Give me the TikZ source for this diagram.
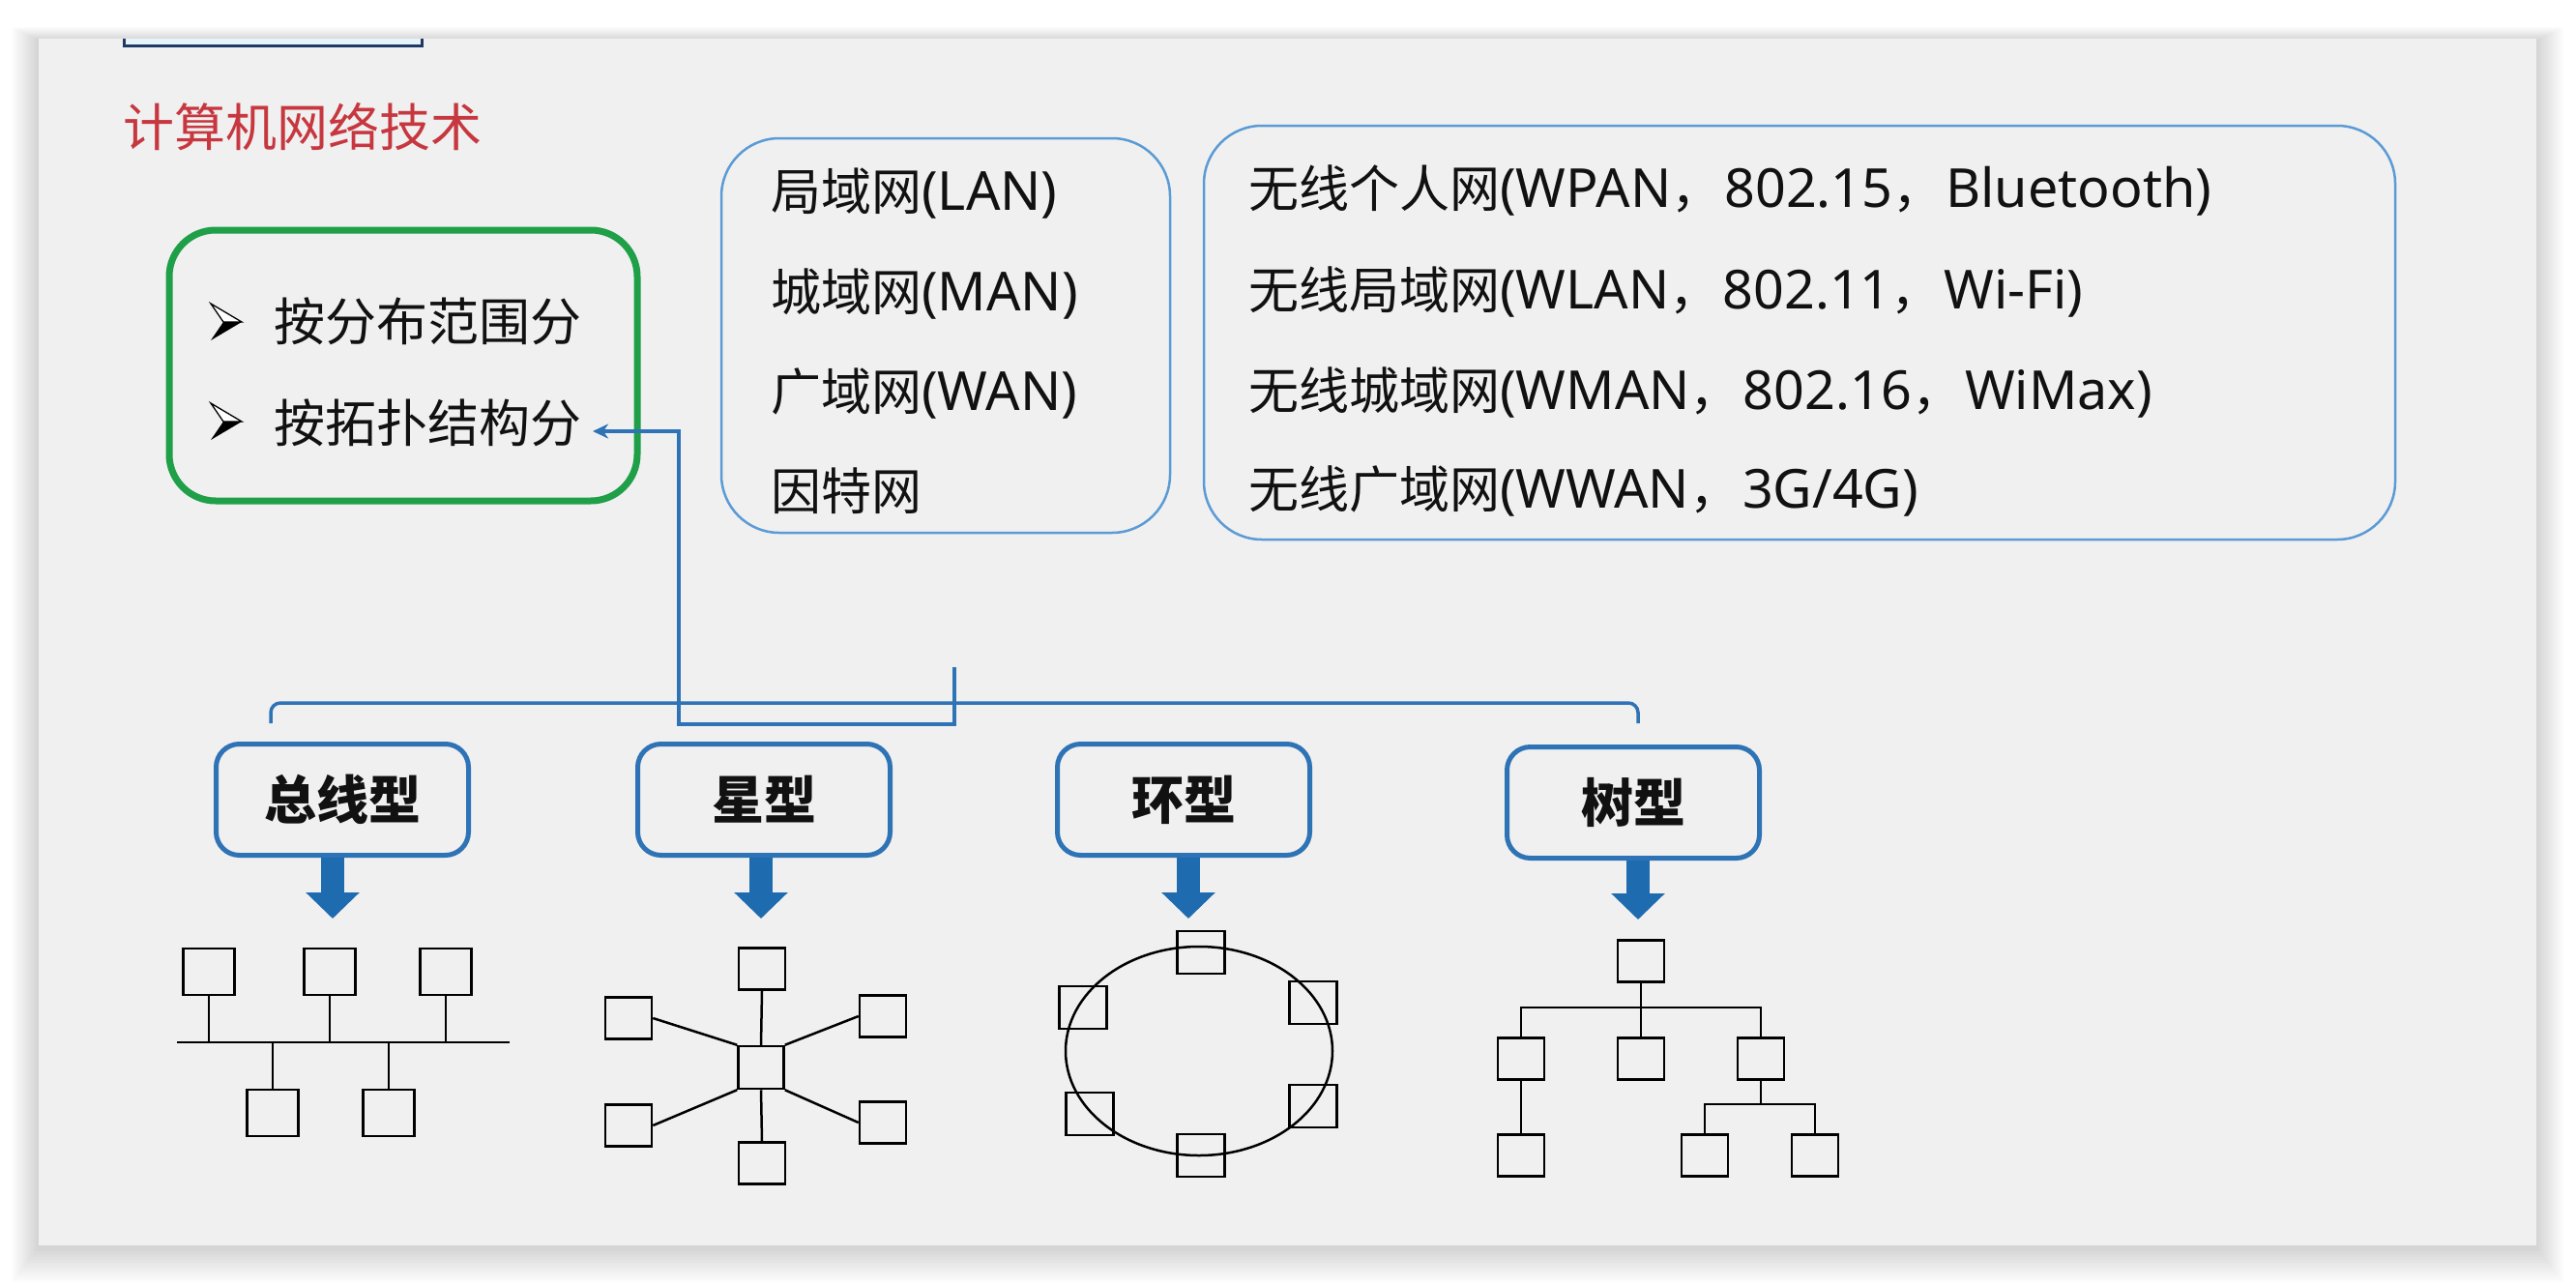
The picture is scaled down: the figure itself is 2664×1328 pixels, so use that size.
\documentclass[tikz,border=0pt]{standalone}
\usepackage{fontspec}
\setmainfont{Noto Sans CJK SC}
\newfontfamily\latfont{Noto Sans}[Scale=1.07]
\newcommand\lt[1]{{\latfont #1}}
\newcommand\fwc{，\hspace{3pt}}
\usetikzlibrary{arrows.meta,shapes.geometric}
\definecolor{panelbg}{HTML}{F0F0F0}
\definecolor{titlered}{HTML}{C7373F}
\definecolor{catgreen}{HTML}{1E9F48}
\definecolor{listblue}{HTML}{5B9BD5}
\definecolor{lblblue}{HTML}{2E73B5}
\definecolor{fatblue}{HTML}{1F6BB0}
\definecolor{navy}{HTML}{1F3864}
\definecolor{palecyan}{HTML}{E6F4FA}
\definecolor{ink}{HTML}{111111}
\tikzset{
  txt/.style={inner sep=0pt, anchor=base west, text=ink},
  f53/.style={font=\fontsize{53pt}{60pt}\selectfont},
  f52/.style={font=\fontsize{52pt}{60pt}\selectfont},
  catbox/.style={draw=catgreen, line width=7pt, rounded corners=48pt, minimum width=484pt, minimum height=280pt, inner sep=0pt},
  listbox/.style={draw=listblue, line width=2.5pt, rounded corners=60pt, inner sep=0pt},
  lbl/.style={draw=lblblue, line width=5pt, rounded corners=24pt, minimum width=261pt, minimum height=115pt, inner sep=0pt, font=\fontsize{54pt}{60pt}\selectfont\bfseries, text=ink},
  conn/.style={draw=lblblue, line width=3.5pt},
  fat/.style={draw=fatblue, line width=24pt, -{Triangle[width=54pt,length=27pt]}},
  dev/.style={draw=black, line width=2.5pt, minimum width=48pt, minimum height=43pt, inner sep=0pt},
  wire/.style={draw=black, line width=2.5pt},
  arrowbullet/.pic={
    \fill[white] (-16,-19) -- (16,0) -- (-3,0) -- cycle;
    \draw[black, line width=1.3pt, line join=miter] (-16,-19) -- (16,0) -- (-3,0) -- cycle;
    \fill[black] (-3,0) -- (16,0) -- (-16,19) -- cycle;
  }
}
\begin{document}
\begin{tikzpicture}[x=1pt,y=-1pt]
\useasboundingbox (0,0) rectangle (2664,1328);
\fill[white] (0,0) rectangle (2664,1328);
% panel shadow
\foreach \i in {1,...,14} {
  \fill[black, opacity=0.011] (40-2*\i, 42-1*\i) rectangle (2623+2*\i, 1290+2.6*\i);
}
\fill[panelbg] (40,40) rectangle (2623,1288);
% partial box at top
\begin{scope}
  \clip (40,40) rectangle (2623,1288);
  \draw[navy, fill=palecyan, line width=3pt] (128,-20) rectangle (436,47);
\end{scope}

% title
\node[txt, f53, text=titlered] (title) at (127,151) {计算机网络技术};

% category box
\node[catbox] (cat) at (417,378) {};
\node[txt, f53] (item1) at (283,352) {按分布范围分};
\node[txt, f53] (item2) at (283,457) {按拓扑结构分};
\pic at (234,333) {arrowbullet};
\pic at (234,436) {arrowbullet};

% wired list box
\node[listbox, minimum width=464pt, minimum height=408pt] (lanbox) at (978,347) {};
\node[txt, f52] (lan1) at (797,217.5) {局域网\lt{(LAN)}};
\node[txt, f52] (lan2) at (797,321.5) {城域网\lt{(MAN)}};
\node[txt, f52] (lan3) at (797,424.5) {广域网\lt{(WAN)}};
\node[txt, f52] (lan4) at (797,527.5) {因特网};

% wireless list box
\node[listbox, minimum width=1232pt, minimum height=428pt] (wbox) at (1861,344) {};
\node[txt, f52] (w1) at (1291,214.5) {无线个人网\lt{(WPAN}\fwc\lt{802.15}\fwc\lt{Bluetooth)}};
\node[txt, f52] (w2) at (1291,319.5) {无线局域网\lt{(WLAN}\fwc\lt{802.11}\fwc\lt{Wi-Fi)}};
\node[txt, f52] (w3) at (1291,423.5) {无线城域网\lt{(WMAN}\fwc\lt{802.16}\fwc\lt{WiMax)}};
\node[txt, f52] (w4) at (1291,525.5) {无线广域网\lt{(WWAN}\fwc\lt{3G/4G)}};

% brace and connector
\coordinate (braceL) at (280,748);
\coordinate (braceR) at (1694,748);
\coordinate (braceTip) at (987,690);
\coordinate (braceMid) at (987,727);
\coordinate (arrtip) at (613,446);
\draw[conn, rounded corners=10pt] (braceL) -- (280,727) -- (1694,727) -- (braceR);
\draw[conn] (braceTip) -- (braceMid);
\draw[conn, -{Stealth[length=16pt,width=15pt,inset=5pt]}] (braceMid) -- (987,749) -- (702,749) -- (702,446) -- (arrtip);

% topology labels
\node[lbl] (lb1) at (354,827) {总线型};
\node[lbl] (lb2) at (790,827) {星型};
\node[lbl] (lb3) at (1224,827) {环型};
\node[lbl] (lb4) at (1689,830) {树型};
\draw[fat] ([xshift=-10pt]lb1.south) -- ++(0,63);
\draw[fat] ([xshift=-3pt]lb2.south) -- ++(0,63);
\draw[fat] ([xshift=5pt]lb3.south) -- ++(0,63);
\draw[fat] ([xshift=5pt]lb4.south) -- ++(0,61);

% bus topology
\node[dev, minimum width=53pt, minimum height=48pt] (b1) at (216,1005) {};
\node[dev, minimum width=53pt, minimum height=48pt] (b2) at (341,1005) {};
\node[dev, minimum width=53pt, minimum height=48pt] (b3) at (461,1005) {};
\node[dev, minimum width=53pt, minimum height=48pt] (b4) at (282,1151) {};
\node[dev, minimum width=53pt, minimum height=48pt] (b5) at (402,1151) {};
\coordinate (busL) at (183,1078);
\coordinate (busR) at (527,1078);
\draw[wire] (busL) -- (busR);
\foreach \n in {b1,b2,b3} \draw[wire] (\n.south) -- (\n.south |- busL);
\foreach \n in {b4,b5} \draw[wire] (\n.north) -- (\n.north |- busL);

% star topology
\node[dev, minimum width=47pt, minimum height=44pt] (s0) at (787,1104) {};
\node[dev] (st) at (788,1002) {};
\node[dev] (sb) at (788,1203) {};
\node[dev] (sul) at (650,1053) {};
\node[dev] (sur) at (913,1051) {};
\node[dev] (sll) at (650,1164) {};
\node[dev] (slr) at (913,1161) {};
\draw[wire] (s0.north) -- (st.south);
\draw[wire] (s0.south) -- (sb.north);
\draw[wire] (s0.north west) -- (sul.east);
\draw[wire] (s0.north east) -- (sur.west);
\draw[wire] (s0.south west) -- (sll.east);
\draw[wire] (s0.south east) -- (slr.west);

% ring topology
\node[draw, ellipse, line width=2.5pt, minimum width=276pt, minimum height=216pt, inner sep=0pt] (ring) at (1240,1087) {};
\node[dev, minimum width=49pt, minimum height=44pt] (r1) at (1242,985) {};
\node[dev, minimum width=49pt, minimum height=44pt] (r2) at (1120,1042) {};
\node[dev, minimum width=49pt, minimum height=44pt] (r3) at (1358,1037) {};
\node[dev, minimum width=49pt, minimum height=44pt] (r4) at (1127,1152) {};
\node[dev, minimum width=49pt, minimum height=44pt] (r5) at (1358,1144) {};
\node[dev, minimum width=49pt, minimum height=44pt] (r6) at (1242,1195) {};

% tree topology
\node[dev] (t0) at (1697,994) {};
\node[dev] (t1) at (1573,1095) {};
\node[dev] (t2) at (1697,1095) {};
\node[dev] (t3) at (1821,1095) {};
\node[dev] (t4) at (1573,1195) {};
\node[dev] (t5) at (1763,1195) {};
\node[dev] (t6) at (1877,1195) {};
\coordinate (j1) at (1697,1042);
\coordinate (j2) at (1821,1142);
\draw[wire] (t0.south) -- (t2.north);
\draw[wire] (t1.north) -- (t1.north |- j1) -- (t3.north |- j1) -- (t3.north);
\draw[wire] (t1.south) -- (t4.north);
\draw[wire] (t3.south) -- (j2);
\draw[wire] (t5.north) -- (t5.north |- j2) -- (t6.north |- j2) -- (t6.north);
\end{tikzpicture}
\end{document}
